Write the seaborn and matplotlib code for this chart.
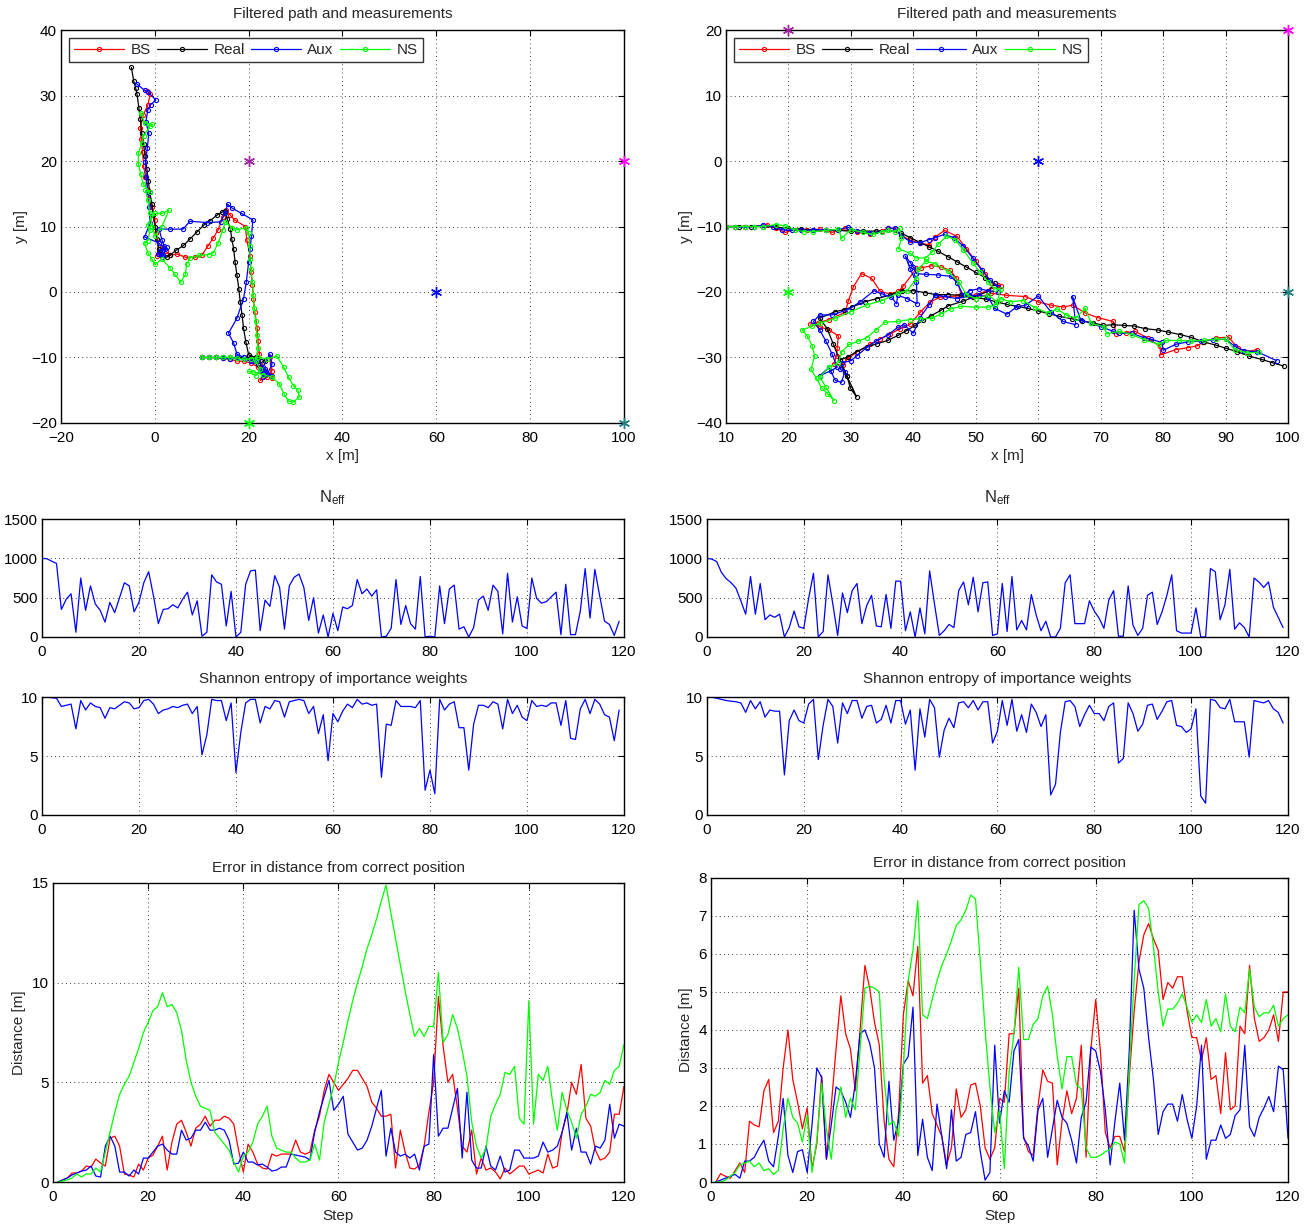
import numpy as np
import pandas as pd
import matplotlib
matplotlib.use('Agg')
import matplotlib.pyplot as plt
import seaborn as sns

# ---------------- path data (left run) ----------------
real_l_x = [10, 11.5, 13, 14.5, 16, 17.5, 19, 20.5, 22, 23.5, 21.5, 20, 19.4, 18.9, 18.6, 18.2, 17.9, 17.5, 17.1, 16.8,
            16.4, 16.1, 15.4, 15, 14.3, 13.2, 11.8, 10.4, 8.9, 7.5, 6.1, 4.6, 3.2, 2.5, 1.4, 0.8, 0.4, 0.1, -0.3, -0.6,
            -1.1, -1.4, -1.7, -2.1, -2.4, -2.8, -3.1, -3.4, -3.8, -4.1, -4.5, -5.0]
real_l_y = [-10, -10, -10, -10, -10, -10, -10, -10.1, -11, -10.5, -10, -9.6, -7.6, -5.5, -3.5, -1.5, 0.5, 2.6, 4.6, 6.6,
            8.1, 9.6, 11.2, 12.4, 12.2, 11.7, 10.9, 10.2, 9.1, 8.1, 7.1, 6.4, 5.6, 5.3, 5.8, 6.6, 8.1, 9.9, 11.7, 13.4,
            15.2, 17.0, 18.8, 20.8, 22.6, 24.3, 26.4, 28.1, 30.2, 31.2, 32.2, 34.3]

bs_l_x = [10, 11.5, 13, 14.5, 16, 17.5, 19, 20.5, 22, 23, 22.5, 24, 25, 24.5, 25, 23.5, 22.5, 22.3, 22, 21.8,
          21.3, 21, 20.8, 20.5, 20.3, 19.6, 19.3, 17, 16, 15.2, 14.5, 13.5, 12.5, 11.3, 10, 8.5, 6.5, 4.8, 3.2, 2.3,
          1.5, 1, 0.5, 0.8, 0.3, 0, -0.7, -1.4, -2, -2.4, -2.6, -2.9, -3.1, -2.5, -1.5, -1, -1.6]
bs_l_y = [-10, -10, -10, -10.1, -10.3, -10.5, -10.6, -10.8, -11.5, -12.5, -13.5, -13, -12, -10, -13.2, -12, -11, -9.5, -7.5, -5.5,
          -3, -1, 1, 3, 5.5, 8, 10, 11, 11.8, 12.5, 11.5, 9.5, 8.3, 7, 5.6, 5.3, 5.3, 5.8, 5.6, 6.3,
          6.8, 6.0, 5.5, 7.5, 9, 11, 13, 15.5, 17.5, 19.3, 21.3, 23.3, 25, 27, 28.5, 30.2, 30.7]

aux_l_x = [10, 11.5, 13, 14.5, 16, 17.5, 19, 20.5, 22, 23, 24.5, 25, 24, 23, 22.5, 23.5, 25, 23, 21, 19,
           17.5, 16.8, 15.7, 17.5, 18.9, 19.5, 20, 20.3, 20.6, 20.9, 18.5, 16.5, 15.5, 15, 14, 11.2, 7.5, 6, 3.2, 0.9,
           1.5, 2, 1.2, 2.5, 1.6, 0.6, 1.8, 2.2, 0.8, -2.2, -1, -1.2, -1.5, -1.8, -2.0, -1.6, -1.3, -1.9, -1.5, -0.9,
           0.2, -1.5, -2.2, -3.9]
aux_l_y = [-10, -10, -10, -10.1, -10.2, -10, -10.3, -10.5, -10.2, -11.5, -9.5, -11, -12.5, -13, -12, -11.8, -12.8, -12.2, -10.5, -10,
           -9.5, -7.8, -6.3, -4.0, -1.0, 1.5, 4.6, 6.5, 8.6, 11, 12, 12.8, 13.4, 12, 10.7, 10.6, 10.8, 9.6, 9.6, 9.6,
           8, 7, 6.2, 6.8, 5.3, 5.8, 5.6, 6.5, 7.5, 8.4, 10.5, 13, 15.2, 17.5, 19.8, 22, 24.2, 26, 27.8, 28.6,
           29.3, 30.6, 30.8, 31.8]

ns_l_x = [10, 11.5, 13, 14.5, 16, 17.5, 19, 20.5, 22, 24, 26, 27.5, 28.5, 29.5, 30.5, 30.8, 29.5, 28.5, 27.5, 26.5,
          25, 23, 21, 20, 21.5, 22.5, 21.5, 22, 21.7, 21.5, 21.2, 21, 20.8, 20.5, 20.3, 20.2, 20, 19.5, 17.5, 16.5,
          15, 14.5, 13.5, 12.5, 11.5, 9.5, 7.5, 6.8, 6.5, 5.5, 4.2, 3.2, 1.5, 0, -0.6, -1.5, -2.2, -1.5, -1, -1.5,
          0, 1.5, 3, 1.5, 0, -0.5, -1, -1.5, -2, -1, -2.5, -3, -3.5, -3.5, -2.8, -2.4, -1, -0.5, -2.2, -3]
ns_l_y = [-10, -10, -10, -10, -10, -10.1, -10.3, -10.2, -10, -10.2, -9.8, -11.5, -13, -14.3, -15, -16, -16.8, -16.7, -15.5, -14,
          -13, -12.6, -12.2, -12.1, -12.8, -11.8, -10.5, -8.5, -6.5, -4.5, -2.5, -0.5, 1.5, 3.5, 5, 7, 9, 9.8, 9.5, 9.8,
          10.7, 9.5, 7.5, 6, 5.7, 5.6, 5.2, 4.3, 2.7, 1.5, 2.8, 3.7, 5, 4.2, 5, 6, 7.5, 7.8, 9.5, 10.3,
          12, 12, 12.5, 10, 8.5, 10, 12, 14, 15.5, 15.2, 16.5, 18, 19.5, 21.2, 22.7, 23.8, 25.4, 25.6, 25.8, 27.4]

# ---------------- path data (right run) ----------------
real_r_x = [10, 12, 14, 16, 18, 20, 22, 24, 26, 28, 30, 32, 34, 36, 38, 39.5, 41, 42.5, 44, 45.5,
            47, 48.5, 50, 51.5, 53, 52, 48, 45.6, 44.4, 42.9, 41.6, 40.3, 38.9, 37.6, 35.9, 34.2, 32.5, 30.9, 29.5, 28.2,
            29.4, 29.9, 30.9, 29.4, 28.2, 27.2, 26.2, 25, 27.5, 28.9, 30.2, 32.2, 34.2, 36.2, 38.2, 40, 41.9, 43.6, 45.6, 47.6,
            49.6, 51.6, 53.3, 55, 56.7, 58.3, 60, 61.7, 63.3, 65.4, 67, 68.7, 70.4, 72, 73.7, 75.4, 77.1, 79.1, 80.7, 82.7,
            84.4, 86.4, 88.4, 90.1, 91.8, 93.8, 95.8, 97.5, 99.3]
real_r_y = [-10, -10, -10, -10, -10.1, -10.3, -10.4, -10.5, -10.6, -10.6, -10.7, -10.7, -10.7, -10.6, -11.0, -11.7, -12.4, -13.1, -13.8, -14.6,
            -15.4, -16.2, -17.0, -17.8, -18.7, -19.9, -21.4, -22.1, -22.8, -23.6, -24.3, -25.1, -25.9, -26.6, -27.4, -27.9, -28.4, -29.1, -29.9, -30.4,
            -32.9, -34.7, -36.0, -32.9, -30.4, -28, -25.6, -24, -23, -22.7, -22.3, -21.5, -21, -20.5, -19.8, -19.8, -20.1, -20.4, -20.4, -20.5,
            -20.8, -21.1, -21.5, -21.9, -22.2, -22.5, -22.9, -23.3, -23.7, -24.1, -24.4, -24.7, -25.1, -25.0, -25.1, -25.2, -25.6, -25.8, -26.1, -26.5,
            -26.9, -27.6, -28.1, -28.6, -29.1, -29.8, -30.3, -30.8, -31.3]

bs_r_x = [10, 11.5, 13, 14.5, 16.5, 18, 19.5, 21, 23, 25, 27, 29, 31, 33, 35, 36, 37, 38, 39.5, 41,
          42.5, 43.5, 45, 47, 48.5, 50, 51.5, 52.5, 53.5, 54, 52.5, 50, 47.7, 46.9, 45.9, 44.5, 42.9, 41.3, 40.5, 38.4,
          37.6, 36.3, 34.7, 33.3, 31.7, 30.4, 29.6, 29.1, 26.5, 24.8, 23.5, 25, 26.5, 28, 27.8, 27.7, 27.3, 28.8, 29.3, 30.9,
          33, 34.7, 36.3, 37.9, 39.5, 41.1, 42.7, 44.3, 47, 50, 52.5, 54.9, 57.9, 60, 62, 64, 65.5, 67.5, 69.5, 72,
          72.5, 74, 75.5, 77.5, 79.5, 79.6, 82, 84, 85.5, 86.5, 88.5, 90.5, 92, 93.5, 95]
bs_r_y = [-10, -10, -10, -10, -9.7, -10.3, -10.9, -10.5, -10.5, -10.4, -10.9, -10.3, -10.9, -11.1, -10.7, -10.2, -10.4, -11.3, -12.1, -12.5,
          -12.8, -11.6, -10.6, -11.5, -13.4, -15.3, -17.2, -18.6, -18.9, -19.1, -19.5, -20.5, -20.5, -17.9, -16.7, -16.2, -16.0, -16.3, -16.4, -19.1,
          -19.9, -20.3, -19.9, -17.9, -17.2, -19.2, -21.3, -23.1, -24.2, -24.7, -24.9, -25.3, -25.8, -26.7, -28.5, -29.7, -31.0, -31.2, -30.3, -29.2,
          -28.0, -27.2, -26.4, -25.6, -24.9, -23.1, -21.5, -20.8, -20.6, -21.0, -20.2, -20.5, -20.7, -21.5, -22.0, -22.3, -22.0, -23.2, -23.9, -24.5,
          -26.4, -26.2, -26.0, -27.0, -28.3, -29.6, -28.8, -28.5, -28.2, -27.6, -27.0, -26.9, -28.6, -29.1, -28.8]

aux_r_x = [10, 11.5, 13, 14.5, 16, 17.5, 19, 20.5, 22, 24, 26, 28, 29.5, 31, 33, 35, 36, 37, 38, 39.5,
           41, 42.5, 43.5, 45, 46.5, 48, 49.5, 51, 52.3, 53.5, 53.5, 52, 50.5, 49, 48, 47, 46, 44, 42, 40.5,
           40, 39.5, 38.7, 39.5, 40.5, 40.6, 39, 37.5, 37.3, 36.5, 35, 33.7, 31.5, 29.5, 27, 25, 24, 25, 26, 27,
           27.8, 26.8, 25, 26.5, 27.5, 28.5, 29, 28.3, 28.5, 30, 31, 32.5, 34, 36, 37.5, 38.5, 40, 41, 42.5, 43.5,
           45, 47, 49, 50.5, 52, 53, 55, 56.5, 58, 60, 62, 64, 66, 65.5, 66.8, 68.5, 70, 72, 73, 75,
           77, 78, 79.8, 80, 82, 84, 86, 88, 90, 91.5, 93, 95, 98.2]
aux_r_y = [-10, -10, -10.1, -10, -9.8, -10, -10.5, -10.6, -10.6, -10.5, -10.5, -10.5, -10.1, -10.7, -11, -10.8, -10.3, -10.2, -11.4, -12.3,
           -12.5, -12, -11.7, -11.2, -11.7, -13, -14.8, -16.7, -18.2, -19.2, -20, -19.8, -19.5, -19.8, -20.5, -18.6, -17.6, -17.4, -17.3, -17.2,
           -16.2, -15.5, -14.5, -16.5, -18.5, -21.8, -21, -20.5, -21.8, -20.8, -20.3, -19.8, -21.5, -22.7, -23.5, -23.5, -24.5, -25.8, -27.5, -29.5,
           -31.5, -32, -32.8, -31.5, -33.5, -33.8, -32.2, -31.8, -30.8, -30.5, -29.7, -28.5, -27.5, -26.5, -25.4, -25, -26.3, -24, -22, -20.5,
           -20.7, -21, -20.6, -20.5, -20.8, -22.5, -23.4, -22.3, -22, -20.6, -23, -24.5, -25, -20.7, -24.3, -24.8, -25.3, -26, -26.3, -26.3,
           -27, -27.2, -27.7, -28.9, -28, -27.6, -27.5, -27.3, -27.2, -28.3, -29, -29.1, -30.5]

ns_r_x = [10, 11.5, 13, 14.5, 16, 18, 19.5, 21, 22.5, 24, 26, 28, 28.5, 30, 32, 33.5, 35, 36, 37, 37.8,
          38.1, 37.6, 39.5, 40.5, 42, 43, 44, 45.3, 46.7, 48, 49.5, 50.7, 52, 53, 54, 53.4, 52, 50, 48.5, 47.3,
          45.5, 43.5, 42, 40.8, 40.5, 39, 37.5, 35, 32.5, 30, 27.5, 25, 23.8, 22.2, 23, 23.8, 24.2, 23.6, 24.5, 25.3,
          26.2, 27.3, 26, 25, 26.5, 28, 28.5, 29.7, 31.2, 32.5, 34, 35.5, 37.5, 39.5, 41, 43, 44.5, 46, 47.5, 50,
          52, 53, 54, 55.5, 57.5, 59.5, 61.5, 63, 64.5, 66, 67.5, 68.5, 70.5, 71, 73, 75, 77, 79.3, 80.5, 82.5,
          84.5, 86.5, 88.5, 90, 91.5, 93.5, 95.3]
ns_r_y = [-10, -10, -10, -10, -10, -9.7, -9.9, -10.5, -10.8, -10.8, -10.6, -10.4, -11.8, -10.5, -10.9, -11.2, -10.8, -10.6, -10.8, -10.3,
          -11.8, -13.4, -14.1, -14.8, -14.8, -13.9, -12.7, -11.5, -12, -13.6, -15.5, -17, -18.5, -19.5, -19.6, -21.5, -20.5, -21, -20.4, -18.5,
          -16.8, -15.7, -15.3, -16.5, -18, -19.8, -20.2, -21.3, -22, -23, -24, -24.8, -25.2, -25.8, -26.7, -28.2, -29.8, -31.8, -33.2, -34.6,
          -35.5, -36.6, -34.5, -33, -31.5, -30.8, -29.2, -28, -27.5, -27, -25.8, -24.6, -24.5, -24.2, -24.1, -24, -23.3, -22.6, -22.2, -22.3,
          -22.3, -22, -21, -21.5, -21.3, -22.4, -23.2, -22.6, -23.5, -24, -22.5, -24.8, -25.3, -26.4, -26, -26.5, -27.3, -28, -27.4, -27.4,
          -27.5, -27.4, -27.2, -27.2, -28.8, -29.3, -29.2]

# anchor positions shown as asterisks
anchor_x = [20, 100, 60, 20, 100]
anchor_y = [20, 20, 0, -20, -20]
anchor_colors = ['#a020a0', '#ff00ff', '#0000ff', '#00ff00', '#208080']

# ---------------- N_eff ----------------
neff_l = [1000, 995, 965, 935, 350, 480, 550, 60, 750, 340, 650, 420, 340, 190, 440, 310, 500, 690, 650, 320,
          440, 690, 830, 520, 170, 350, 360, 410, 370, 480, 570, 280, 460, 10, 60, 790, 700, 670, 140, 580,
          0, 60, 670, 840, 850, 80, 470, 390, 780, 630, 100, 650, 760, 800, 630, 210, 500, 50, 280, 0,
          300, 80, 380, 360, 400, 730, 550, 610, 520, 600, 0, 10, 110, 730, 160, 400, 170, 100, 770, 0,
          10, 0, 650, 170, 610, 660, 100, 130, 0, 120, 470, 520, 340, 660, 580, 40, 810, 190, 510, 140,
          110, 750, 490, 430, 450, 510, 570, 30, 670, 30, 30, 330, 870, 240, 860, 520, 200, 160, 20, 200]
neff_r = [1000, 990, 960, 820, 740, 690, 620, 460, 290, 770, 290, 680, 220, 280, 250, 290, 0, 120, 330, 130,
          110, 490, 810, 0, 70, 790, 420, 20, 560, 310, 590, 680, 170, 400, 530, 140, 130, 540, 110, 710,
          710, 80, 320, 0, 370, 40, 840, 420, 20, 80, 160, 120, 590, 700, 410, 760, 320, 690, 700, 20,
          40, 680, 70, 770, 90, 210, 90, 540, 280, 80, 200, 0, 0, 110, 690, 790, 170, 170, 170, 460,
          330, 240, 110, 470, 590, 10, 10, 650, 150, 20, 110, 530, 570, 160, 320, 530, 790, 80, 50, 50,
          50, 370, 0, 0, 870, 830, 220, 410, 860, 100, 180, 120, 0, 750, 700, 630, 700, 380, 250, 120]

# ---------------- Shannon entropy ----------------
ent_l = [10, 10, 9.95, 9.9, 9.2, 9.3, 9.4, 7.3, 9.7, 8.9, 9.5, 9.2, 9.1, 8.2, 9.1, 9.0, 9.3, 9.6, 9.5, 9.0,
         9.1, 9.7, 9.8, 9.4, 8.6, 8.9, 9.0, 9.2, 9.1, 9.3, 9.4, 8.6, 9.2, 5.1, 6.8, 9.8, 9.7, 9.7, 8.0, 9.5,
         3.6, 7.0, 9.5, 9.8, 9.8, 7.8, 9.2, 9.0, 9.7, 9.6, 8.3, 9.6, 9.7, 9.8, 9.7, 8.6, 9.2, 6.9, 8.5, 4.6,
         8.6, 7.9, 8.8, 9.4, 9.1, 9.8, 9.4, 9.5, 9.3, 9.4, 3.2, 7.7, 7.6, 9.7, 9.2, 9.2, 9.2, 9.1, 9.7, 2.1,
         3.8, 1.8, 9.8, 8.9, 9.4, 9.6, 7.4, 7.4, 3.8, 7.7, 9.3, 9.3, 9.1, 9.6, 9.4, 7.3, 9.8, 8.6, 9.3, 8.3,
         8.0, 9.7, 9.2, 9.3, 9.2, 9.5, 9.5, 7.6, 9.7, 6.5, 6.4, 9.0, 9.8, 8.6, 9.8, 9.4, 8.5, 8.3, 6.3, 8.9]
ent_r = [10, 10, 9.9, 9.8, 9.7, 9.65, 9.6, 9.5, 8.7, 9.7, 9.0, 9.6, 8.3, 8.9, 8.8, 8.8, 3.4, 8.0, 8.9, 8.0,
         7.8, 9.4, 9.8, 4.7, 7.6, 9.8, 9.2, 6.1, 9.5, 8.6, 9.7, 9.7, 8.2, 9.2, 9.3, 7.8, 8.1, 9.3, 7.8, 9.7,
         9.7, 7.7, 8.9, 3.8, 9.0, 6.6, 9.8, 9.1, 4.9, 7.2, 8.2, 7.4, 9.5, 9.6, 9.1, 9.7, 8.9, 9.6, 9.6, 6.1,
         7.1, 9.7, 7.6, 9.8, 7.1, 8.5, 7.0, 9.4, 8.7, 7.5, 8.5, 1.7, 2.6, 7.0, 9.6, 9.7, 9.2, 7.5, 8.5, 9.3,
         8.6, 8.6, 8.0, 9.2, 9.5, 4.4, 4.8, 9.5, 8.6, 7.1, 7.7, 9.3, 9.4, 8.1, 8.8, 9.6, 9.7, 7.6, 7.5, 7.0,
         7.3, 9.0, 1.6, 1.0, 9.8, 9.7, 9.1, 9.0, 9.8, 7.9, 7.9, 7.9, 4.9, 9.7, 9.6, 9.5, 9.7, 9.0, 8.7, 7.8]

# ---------------- distance error ----------------
err_bs_l = [0, 0.1, 0.2, 0.45, 0.45, 0.55, 0.8, 0.75, 1.15, 0.95, 0.8, 2.2, 2.3, 1.8, 0.4, 0.35, 0.25, 0.9, 0.6, 1.2,
            1.35, 1.8, 2.3, 0.6, 2.0, 2.9, 3.1, 2.5, 1.8, 2.7, 2.9, 3.3, 2.8, 3.1, 3.1, 3.3, 3.2, 2.9, 1.6, 0.5,
            1.9, 1.5, 0.9, 0.7, 0.65, 1.4, 1.3, 1.4, 1.4, 1.4, 2.1, 1.5, 1.4, 1.5, 2.6, 3.3, 4.6, 5.4, 5.0, 4.6,
            4.9, 5.2, 5.6, 5.6, 5.2, 4.8, 4.0, 3.7, 3.3, 3.3, 3.4, 0.7, 2.6, 1.5, 0.7, 0.65, 0.85, 1.8, 3.5, 5.0,
            9.3, 6.8, 5.0, 5.4, 3.7, 1.8, 1.5, 2.6, 0.4, 1.2, 0.6, 0.7, 0.5, 0.15, 0.7, 0.4, 0.6, 0.8, 0.8, 0.4,
            0.5, 0.6, 0.45, 1.4, 0.7, 0.8, 2.5, 3.4, 5.0, 4.4, 5.9, 3.2, 2.8, 1.6, 1.1, 1.2, 1.5, 3.4, 3.4, 4.8]
err_aux_l = [0, 0.1, 0.2, 0.35, 0.45, 0.55, 0.6, 0.8, 0.3, 0.25, 1.8, 2.3, 1.8, 0.5, 0.5, 0.3, 0.6, 0.4, 1.2, 1.2,
             1.5, 1.8, 1.9, 1.6, 1.4, 1.4, 2.6, 2.1, 2.2, 2.6, 2.6, 3.0, 2.6, 2.6, 2.7, 2.6, 2.1, 0.9, 0.95, 1.5,
             1.0, 1.0, 0.85, 0.9, 0.75, 0.55, 0.6, 0.75, 0.75, 1.4, 1.35, 1.3, 1.25, 1.1, 2.5, 3.5, 4.3, 5.1, 3.6, 3.9,
             4.3, 2.4, 2.0, 1.6, 1.7, 2.1, 2.8, 3.7, 4.6, 1.3, 2.7, 1.5, 1.3, 1.4, 1.2, 1.4, 0.6, 1.8, 1.9, 6.4,
             2.3, 2.7, 2.7, 3.7, 4.7, 1.2, 4.5, 1.1, 0.7, 0.7, 1.8, 0.8, 0.6, 1.3, 0.5, 0.6, 1.6, 1.6, 1.2, 1.2,
             1.2, 1.3, 2.0, 1.5, 1.6, 1.8, 2.5, 3.5, 1.6, 2.7, 1.5, 1.5, 0.9, 1.8, 1.7, 2.1, 3.9, 2.2, 2.9, 2.8]
err_ns_l = [0, 0.05, 0.1, 0.2, 0.4, 0.25, 0.4, 0.4, 0.7, 0.5, 1.5, 2.5, 3.5, 4.4, 4.9, 5.3, 6.0, 6.7, 7.5, 8.0,
            8.6, 8.8, 9.5, 8.8, 8.9, 8.5, 7.6, 6.1, 5.0, 4.3, 3.8, 3.7, 3.6, 2.5, 2.2, 1.9, 1.6, 1.0, 0.5, 1.3,
            1.5, 2.0, 2.9, 3.3, 3.8, 2.3, 1.7, 1.6, 1.5, 1.5, 1.2, 1.0, 1.0, 1.1, 1.9, 1.1, 3.0, 3.9, 4.8, 6.0,
            7.0, 8.1, 9.1, 10.0, 10.8, 11.7, 12.4, 13.2, 14.1, 14.9, 13.5, 12.2, 10.9, 9.6, 8.4, 7.3, 7.7, 7.3, 7.8, 7.8,
            10.5, 7.0, 7.4, 8.4, 7.7, 6.6, 5.3, 3.0, 1.8, 1.2, 1.7, 3.3, 3.9, 4.4, 5.5, 5.4, 5.8, 3.2, 2.9, 9.1,
            2.9, 5.4, 5.1, 5.8, 4.0, 2.6, 4.5, 3.6, 3.0, 2.2, 3.4, 3.8, 4.4, 4.3, 4.5, 5.1, 4.9, 5.6, 5.8, 6.9]
err_bs_r = [0, 0.22, 0.15, 0.1, 0.3, 0.5, 0.25, 1.6, 1.5, 1.45, 2.4, 2.7, 1.3, 1.6, 3.0, 4.0, 2.7, 2.1, 1.4, 1.95,
            0.35, 1.0, 2.8, 0.6, 2.0, 3.5, 4.9, 3.9, 3.5, 2.4, 4.0, 5.7, 5.1, 4.2, 3.6, 1.6, 0.6, 0.4, 1.8, 4.4,
            5.3, 4.9, 6.2, 2.6, 2.8, 1.8, 1.5, 1.2, 0.45, 0.9, 2.45, 1.7, 1.9, 2.55, 2.6, 2.0, 0.9, 0.6, 0.9, 2.2,
            2.1, 3.9, 3.9, 5.1, 1.2, 0.8, 0.7, 2.0, 2.95, 2.65, 2.6, 0.45, 1.6, 2.4, 1.8, 2.2, 3.6, 0.65, 3.5, 4.8,
            3.4, 1.3, 0.9, 1.2, 1.2, 0.8, 2.8, 4.5, 5.8, 6.5, 6.8, 6.4, 6.1, 4.8, 5.25, 5.1, 5.4, 5.4, 4.5, 3.8,
            3.8, 3.2, 3.8, 2.7, 2.8, 1.8, 3.4, 1.9, 2.0, 4.1, 3.9, 5.7, 4.3, 3.7, 3.8, 4.0, 4.4, 3.7, 5.0, 5.0]
err_aux_r = [0, 0.05, 0.1, 0.15, 0.2, 0.1, 0.55, 0.55, 0.65, 0.9, 1.1, 0.55, 0.4, 1.2, 2.2, 0.7, 0.25, 0.8, 0.85, 0.25,
             1.5, 3.0, 2.75, 0.6, 1.5, 2.5, 2.4, 2.1, 1.7, 2.6, 3.9, 4.0, 3.65, 3.0, 1.0, 0.65, 2.65, 1.1, 1.6, 3.1,
             3.3, 4.6, 0.7, 1.65, 0.65, 0.3, 2.05, 1.2, 0.35, 1.9, 0.55, 0.65, 1.25, 1.3, 1.85, 0.8, 0.05, 0.25, 3.6, 1.55,
             2.4, 2.1, 3.45, 3.75, 1.15, 0.95, 0.55, 1.9, 2.2, 0.65, 1.4, 2.15, 1.7, 1.55, 1.1, 0.5, 1.7, 2.1, 3.55, 3.45,
             2.9, 1.9, 0.45, 1.6, 2.6, 1.1, 3.5, 7.15, 5.6, 5.1, 3.8, 2.7, 1.25, 1.85, 2.05, 2.05, 1.6, 2.3, 1.65, 1.15,
             2.0, 3.6, 0.6, 1.1, 1.1, 1.5, 1.15, 1.25, 1.75, 1.9, 3.6, 1.45, 1.2, 1.7, 1.95, 2.25, 1.85, 3.05, 2.95, 1.15]
err_ns_r = [0, 0.0, 0.05, 0.15, 0.25, 0.45, 0.5, 0.55, 0.4, 0.5, 0.3, 0.35, 0.2, 0.3, 1.4, 2.2, 1.7, 1.55, 1.05, 1.75,
            0.25, 1.1, 2.6, 1.4, 0.6, 1.9, 2.5, 1.7, 2.2, 1.9, 3.5, 5.1, 5.15, 5.1, 5.0, 2.7, 1.5, 1.6, 1.2, 3.0,
            5.3, 6.1, 7.4, 4.4, 4.3, 4.8, 5.3, 5.7, 6.0, 6.35, 6.75, 6.9, 7.15, 7.55, 7.45, 5.8, 4.0, 2.5, 1.3, 1.9,
            0.35, 2.9, 3.9, 5.65, 3.75, 3.75, 4.15, 4.3, 4.9, 5.15, 4.4, 3.3, 2.45, 3.3, 3.3, 2.55, 2.45, 0.9, 0.65, 0.65,
            0.7, 0.8, 0.85, 1.05, 1.0, 0.5, 3.0, 5.3, 7.3, 7.4, 7.2, 6.2, 5.0, 4.1, 4.55, 4.55, 4.7, 4.95, 4.6, 4.2,
            4.4, 4.2, 4.8, 4.1, 4.3, 3.95, 4.95, 4.1, 3.95, 4.6, 4.45, 5.6, 4.6, 4.35, 4.45, 4.45, 4.65, 4.1, 4.3, 4.4]

steps0 = np.arange(0, 120)
steps1 = np.arange(1, 121)

sns.set_theme(style='white')
plt.rcParams['font.family'] = ['Liberation Sans', 'DejaVu Sans']
plt.rcParams['mathtext.fontset'] = 'custom'
plt.rcParams['mathtext.rm'] = 'Liberation Sans'
plt.rcParams['mathtext.it'] = 'Liberation Sans:italic'
plt.rcParams['font.size'] = 11

RED, BLACK, BLUE, GREEN = '#ff0000', '#000000', '#0000ff', '#00ff00'


def matlab_axes(ax, xlim, ylim, xticks, yticks):
    ax.set_xlim(xlim)
    ax.set_ylim(ylim)
    ax.set_xticks(xticks)
    ax.set_yticks(yticks)
    ax.set_xticklabels([str(t).replace('-', '\u2212') for t in xticks])
    ax.set_yticklabels([str(t).replace('-', '\u2212') for t in yticks])
    ax.tick_params(direction='in', top=True, right=True, length=4, width=0.8,
                   labelsize=11, colors='black')
    ax.tick_params(axis='x', pad=6)
    ax.tick_params(axis='y', pad=3)
    ax.grid(True, color='black', linestyle=(0, (1, 4)), linewidth=0.6)
    for s in ax.spines.values():
        s.set_color('black')
        s.set_linewidth(1.0)
    ax.set_facecolor('white')


def draw_path(ax, series, xlim, ylim, xticks, yticks):
    for xs, ys, col, lab in series:
        sns.lineplot(x=xs, y=ys, ax=ax, sort=False, estimator=None, color=col, label=lab,
                     linewidth=0.9, marker='o', markersize=3, markeredgewidth=0.8,
                     markeredgecolor=col, markerfacecolor='none')
    for ax_x, ax_y, c in zip(anchor_x, anchor_y, anchor_colors):
        ax.plot(ax_x, ax_y, marker=(6, 2, 0), color=c, markersize=8, markeredgewidth=1.0,
                linestyle='none', clip_on=False, zorder=5)
    matlab_axes(ax, xlim, ylim, xticks, yticks)
    leg = ax.legend(loc='upper left', ncol=4, frameon=True, fancybox=False, fontsize=11,
                    handlelength=3.3, handletextpad=0.4, columnspacing=0.4,
                    borderpad=0.35, borderaxespad=0.5, edgecolor='black')
    leg.get_frame().set_linewidth(1.0)
    ax.set_title('Filtered path and measurements', fontsize=11, pad=9)
    ax.set_xlabel('x [m]', fontsize=11, labelpad=3)
    ax.set_ylabel('y [m]', fontsize=11, labelpad=2)


fig = plt.figure(figsize=(13.15, 12.25), dpi=100)

# path plots
ax1 = fig.add_axes([0.0464, 0.6547, 0.4281, 0.3208])
draw_path(ax1, [(bs_l_x, bs_l_y, RED, 'BS'), (real_l_x, real_l_y, BLACK, 'Real'),
                (aux_l_x, aux_l_y, BLUE, 'Aux'), (ns_l_x, ns_l_y, GREEN, 'NS')],
          (-20, 100), (-20, 40), list(range(-20, 101, 20)), list(range(-20, 41, 10)))
ax2 = fig.add_axes([0.5521, 0.6547, 0.4274, 0.3208])
draw_path(ax2, [(bs_r_x, bs_r_y, RED, 'BS'), (real_r_x, real_r_y, BLACK, 'Real'),
                (aux_r_x, aux_r_y, BLUE, 'Aux'), (ns_r_x, ns_r_y, GREEN, 'NS')],
          (10, 100), (-40, 20), list(range(10, 101, 10)), list(range(-40, 21, 10)))

# N_eff
for left, width, vals in [(0.0319, 0.4426, neff_l), (0.5376, 0.4418, neff_r)]:
    ax = fig.add_axes([left, 0.48, width, 0.0963])
    sns.lineplot(x=steps0, y=vals, ax=ax, color=BLUE, linewidth=0.9)
    matlab_axes(ax, (0, 120), (0, 1500), list(range(0, 121, 20)), [0, 500, 1000, 1500])
    ax.set_title(r'N$_{\rm eff}$', fontsize=12, pad=12)

# Shannon entropy
for left, width, vals in [(0.0319, 0.4426, ent_l), (0.5376, 0.4418, ent_r)]:
    ax = fig.add_axes([left, 0.3347, width, 0.0963])
    sns.lineplot(x=steps0, y=vals, ax=ax, color=BLUE, linewidth=0.9)
    matlab_axes(ax, (0, 120), (0, 10), list(range(0, 121, 20)), [0, 5, 10])
    ax.set_title('Shannon entropy of importance weights', fontsize=11, pad=10)

# distance error
err_sets = [
    ([0.0403, 0.0351, 0.4342, 0.2441], err_bs_l, err_aux_l, err_ns_l, (0, 15), [0, 5, 10, 15]),
    ([0.5407, 0.0351, 0.4388, 0.2482], err_bs_r, err_aux_r, err_ns_r, (0, 8), list(range(0, 9))),
]
for rect, e_bs, e_aux, e_ns, ylim, yt in err_sets:
    ax = fig.add_axes(rect)
    df = pd.DataFrame({'Step': np.tile(steps1, 3),
                       'Distance': e_bs + e_aux + e_ns,
                       'filter': ['BS'] * 120 + ['Aux'] * 120 + ['NS'] * 120})
    sns.lineplot(data=df, x='Step', y='Distance', hue='filter', ax=ax, legend=False,
                 palette={'BS': RED, 'Aux': BLUE, 'NS': GREEN}, linewidth=0.9)
    matlab_axes(ax, (0, 120), ylim, list(range(0, 121, 20)), yt)
    ax.set_title('Error in distance from correct position', fontsize=11, pad=8)
    ax.set_xlabel('Step', fontsize=11, labelpad=3)
    ax.set_ylabel('Distance [m]', fontsize=11, labelpad=4)

fig.savefig('out.png', dpi=100)
